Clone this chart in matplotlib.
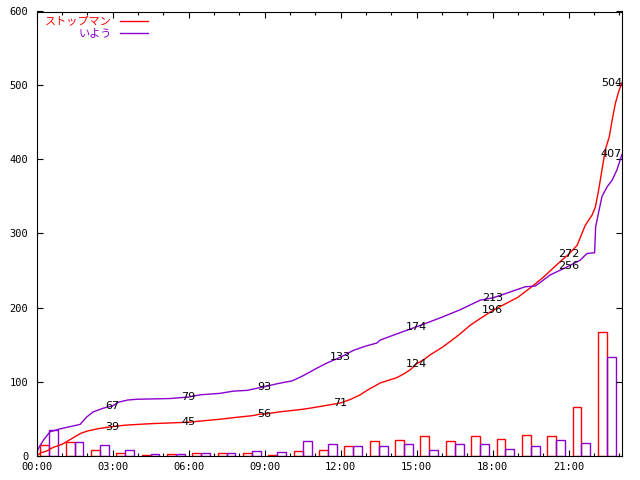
import matplotlib
matplotlib.use("Agg")
import matplotlib.pyplot as plt
from matplotlib.lines import Line2D
from matplotlib.ticker import MultipleLocator, FuncFormatter
import numpy as np

# hourly counts (bars), hour 0 .. 22
bar_hours = np.arange(23)
red_counts = [14, 18, 7, 3, 1, 2, 3, 4, 4, 1, 6, 8, 13, 19, 21, 27, 19, 26, 22, 28, 26, 65, 167]
purple_counts = [35, 18, 14, 8, 2, 2, 4, 4, 6, 5, 19, 16, 13, 13, 15, 7, 16, 16, 9, 13, 21, 17, 133]

# cumulative lines, time in hours
red_t = [0.0, 0.2, 0.4, 0.66, 1.0, 1.2, 1.5, 1.75, 2.0, 2.4, 2.77, 3.0, 3.5, 4.0, 4.5, 5.27,
         6.0, 6.6, 7.24, 8.0, 8.56, 8.82, 9.0, 9.6, 10.4, 10.8, 11.32, 12.0, 12.4, 12.77,
         13.04, 13.3, 13.56, 13.83, 14.2, 14.48, 14.75, 15.0, 15.3, 15.53, 16.0, 16.32, 16.7,
         17.11, 17.5, 18.0, 18.5, 19.0, 19.5, 20.0, 20.5, 20.73, 21.0, 21.33, 21.52, 21.65,
         21.92, 22.05, 22.18, 22.31, 22.44, 22.6, 22.71, 22.84, 22.97, 23.1]
red_v = [0, 4, 6, 11, 15, 19, 25, 30, 33, 36, 38, 39, 41, 42, 43, 44,
         45, 47, 49, 52, 54, 56, 56, 59, 62, 64, 67, 71, 76, 82,
         88, 93, 98, 101, 105, 110, 116, 124, 130, 136, 146, 154, 164,
         176, 185, 196, 205, 214, 227, 241, 257, 264, 272, 284, 300, 311,
         325, 336, 359, 386, 413, 431, 453, 476, 492, 504]

purple_t = [0.0, 0.05, 0.15, 0.3, 0.53, 0.93, 1.32, 1.72, 1.98, 2.24, 2.64, 3.0, 3.23, 3.6,
            3.96, 5.27, 6.0, 6.45, 7.24, 7.77, 8.3, 9.0, 9.5, 10.1, 10.53, 11.06, 11.46, 12.0,
            12.5, 13.0, 13.43, 13.56, 14.35, 15.0, 15.93, 16.72, 17.51, 18.0, 18.69, 19.28,
            19.68, 20.27, 21.0, 21.45, 21.72, 22.02, 22.06, 22.18, 22.31, 22.51, 22.71, 22.9, 23.1]
purple_v = [0, 8, 14, 22, 32, 36, 39, 42, 52, 59, 64, 67, 72, 75,
            76, 77, 79, 82, 84, 87, 88, 93, 97, 101, 108, 118, 125, 133,
            142, 148, 152, 156, 166, 174, 186, 197, 210, 213, 221, 228,
            229, 244, 256, 264, 273, 274, 309, 329, 350, 363, 372, 386, 407]

# labels on the lines every 3 hours
mark_hours = [3, 6, 9, 12, 15, 18, 21]
red_marks = [39, 45, 56, 71, 124, 196, 272]
purple_marks = [67, 79, 93, 133, 174, 213, 256]

RED = "#ff0000"
PURPLE = "#8a00d0"
W = 0.35

fig = plt.figure(figsize=(6.4, 4.8), dpi=100)
ax = fig.add_axes([36.5 / 640, 1 - 455.5 / 480, (622 - 36.5) / 640, (455.5 - 11.5) / 480])

ax.bar(bar_hours + 0.5, red_counts, width=-W, align="edge", fill=False, edgecolor=RED, lw=1)
ax.bar(bar_hours + 0.5, purple_counts, width=W, align="edge", fill=False, edgecolor=PURPLE, lw=1)

ax.plot(red_t, red_v, color=RED, lw=1)
ax.plot(purple_t, purple_v, color=PURPLE, lw=1)

lab = dict(ha="center", va="center", fontsize=8, color="black")
for h, v in zip(mark_hours, red_marks):
    ax.text(h, v, str(v), **lab)
for h, v in zip(mark_hours, purple_marks):
    ax.text(h, v, str(v), **lab)
ax.text(red_t[-1], red_v[-1], str(red_v[-1]), ha="right", va="center", fontsize=8)
ax.text(purple_t[-1], purple_v[-1], str(purple_v[-1]), ha="right", va="center", fontsize=8)

ax.set_xlim(0, 23.1)
ax.set_ylim(0, 600)
ax.xaxis.set_major_locator(MultipleLocator(3))
ax.xaxis.set_minor_locator(MultipleLocator(1))
ax.yaxis.set_major_locator(MultipleLocator(100))
ax.xaxis.set_major_formatter(FuncFormatter(lambda x, p: "%02d:00" % int(round(x))))

for s in ax.spines.values():
    s.set_linewidth(0.8)
ax.tick_params(which="major", direction="in", top=True, right=True, length=4.3, width=0.8)
ax.tick_params(which="minor", direction="in", top=True, length=2.2, width=0.8)
ax.tick_params(axis="x", pad=5)
ax.tick_params(axis="y", pad=6)
for t in ax.get_xticklabels() + ax.get_yticklabels():
    t.set_fontfamily("DejaVu Sans Mono")
    t.set_fontsize(7.5)

# legend, top left
fig.text(112 / 640, 1 - 21 / 480, "ストップマン", ha="right", va="center", color=RED,
         fontsize=8, family=["Noto Sans CJK JP", "DejaVu Sans"])
fig.text(112 / 640, 1 - 33 / 480, "いよう", ha="right", va="center", color=PURPLE,
         fontsize=8, family=["Noto Sans CJK JP", "DejaVu Sans"])
fig.add_artist(Line2D([120 / 640, 148 / 640], [1 - 21 / 480] * 2, color=RED, lw=1))
fig.add_artist(Line2D([120 / 640, 148 / 640], [1 - 33 / 480] * 2, color=PURPLE, lw=1))

fig.savefig("out.png", dpi=100)
